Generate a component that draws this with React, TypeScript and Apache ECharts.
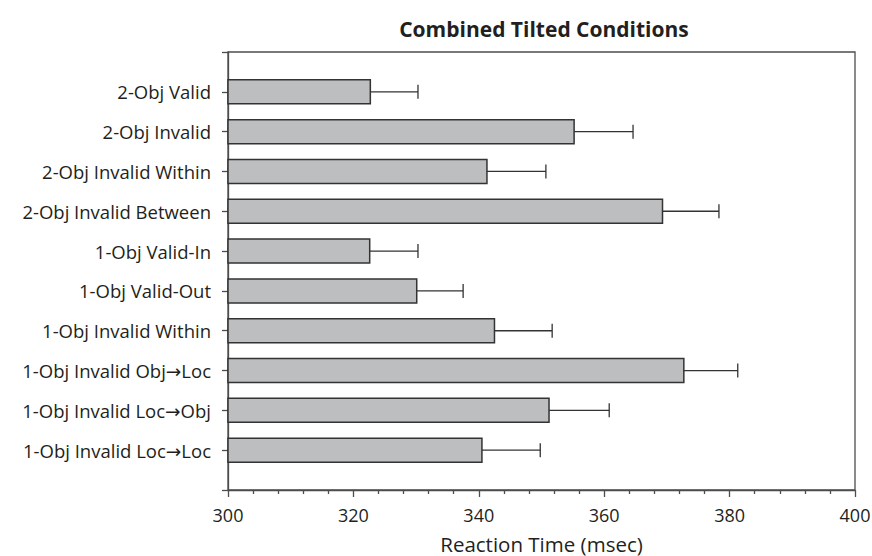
import React, { useEffect, useRef } from "react";
import * as echarts from "echarts";

const categories = [
  "2-Obj Valid",
  "2-Obj Invalid",
  "2-Obj Invalid Within",
  "2-Obj Invalid Between",
  "1-Obj Valid-In",
  "1-Obj Valid-Out",
  "1-Obj Invalid Within",
  "1-Obj Invalid Obj\u2192Loc",
  "1-Obj Invalid Loc\u2192Obj",
  "1-Obj Invalid Loc\u2192Loc",
];
const means = [322.7, 355.2, 341.3, 369.3, 322.6, 330.1, 342.5, 372.7, 351.2, 340.5];
const errors = [7.6, 9.4, 9.4, 9.0, 7.7, 7.4, 9.2, 8.6, 9.6, 9.3];
const xTicks = [300, 320, 340, 360, 380, 400];

const FONT = "'Open Sans', 'DejaVu Sans', sans-serif";
const TEXT = "#231f20";
const AXIS = "#4d4d4d";

export default function App() {
  const ref = useRef<HTMLDivElement>(null);
  useEffect(() => {
    document.body.style.margin = "0";
    if (!ref.current) return;
    const chart = echarts.init(ref.current, undefined, { renderer: "svg" });
    const yData = ["", ...categories, ""];
    const base = xTicks[0];
    const data = means.map((m, i) => [m, i + 1, m + errors[i]]);
    chart.setOption({
      animation: false,
      backgroundColor: "#ffffff",
      title: {
        text: "Combined Tilted Conditions",
        left: 539,
        textAlign: "center",
        top: 13,
        textStyle: { fontFamily: FONT, fontWeight: "bold", fontSize: 21, color: TEXT },
      },
      grid: {
        left: 228,
        right: 17,
        top: 52,
        bottom: 66,
        outerBoundsMode: "none",
        containLabel: false,
        show: true,
        borderColor: AXIS,
        borderWidth: 1.3,
        backgroundColor: "transparent",
      },
      xAxis: {
        type: "value",
        min: xTicks[0],
        max: xTicks[xTicks.length - 1],
        interval: 20,
        name: "Reaction Time (msec)",
        nameLocation: "middle",
        nameGap: 43,
        nameTextStyle: { fontFamily: FONT, fontSize: 20.5, color: TEXT },
        axisLine: { show: true, lineStyle: { color: AXIS, width: 1.3 } },
        axisTick: { show: true, length: 7, lineStyle: { color: AXIS, width: 1.3 } },
        minorTick: { show: true, splitNumber: 5, length: 4, lineStyle: { color: AXIS, width: 1.3 } },
        splitLine: { show: false },
        axisLabel: { fontFamily: FONT, fontSize: 18, color: TEXT, margin: 16 },
      },
      yAxis: {
        type: "category",
        data: yData,
        inverse: true,
        boundaryGap: false,
        axisLine: { show: true, lineStyle: { color: AXIS, width: 1.3 } },
        axisTick: { show: true, length: 6, interval: 0, lineStyle: { color: AXIS, width: 1.3 } },
        axisLabel: { interval: 0, fontFamily: FONT, fontSize: 18.5, color: TEXT, margin: 17 },
        splitLine: { show: false },
      },
      series: [
        {
          type: "custom",
          encode: { x: 0, y: 1 },
          data,
          renderItem: (params: any, api: any) => {
            const idx = api.value(1);
            const v = api.value(0);
            const up = api.value(2);
            const p0 = api.coord([base, idx]);
            const p1 = api.coord([v, idx]);
            const p2 = api.coord([up, idx]);
            const h = 24;
            const st = { stroke: "#333333", lineWidth: 1.3 };
            return {
              type: "group",
              children: [
                {
                  type: "rect",
                  shape: { x: p0[0], y: p0[1] - h / 2, width: p1[0] - p0[0], height: h },
                  style: { fill: "#bcbec0", stroke: "#333333", lineWidth: 1.5 },
                },
                { type: "line", shape: { x1: p1[0], y1: p1[1], x2: p2[0], y2: p2[1] }, style: st },
                { type: "line", shape: { x1: p2[0], y1: p2[1] - 7, x2: p2[0], y2: p2[1] + 7 }, style: st },
              ],
            };
          },
        },
      ],
    });
    return () => chart.dispose();
  }, []);
  return <div ref={ref} style={{ width: 872, height: 556 }} />;
}
